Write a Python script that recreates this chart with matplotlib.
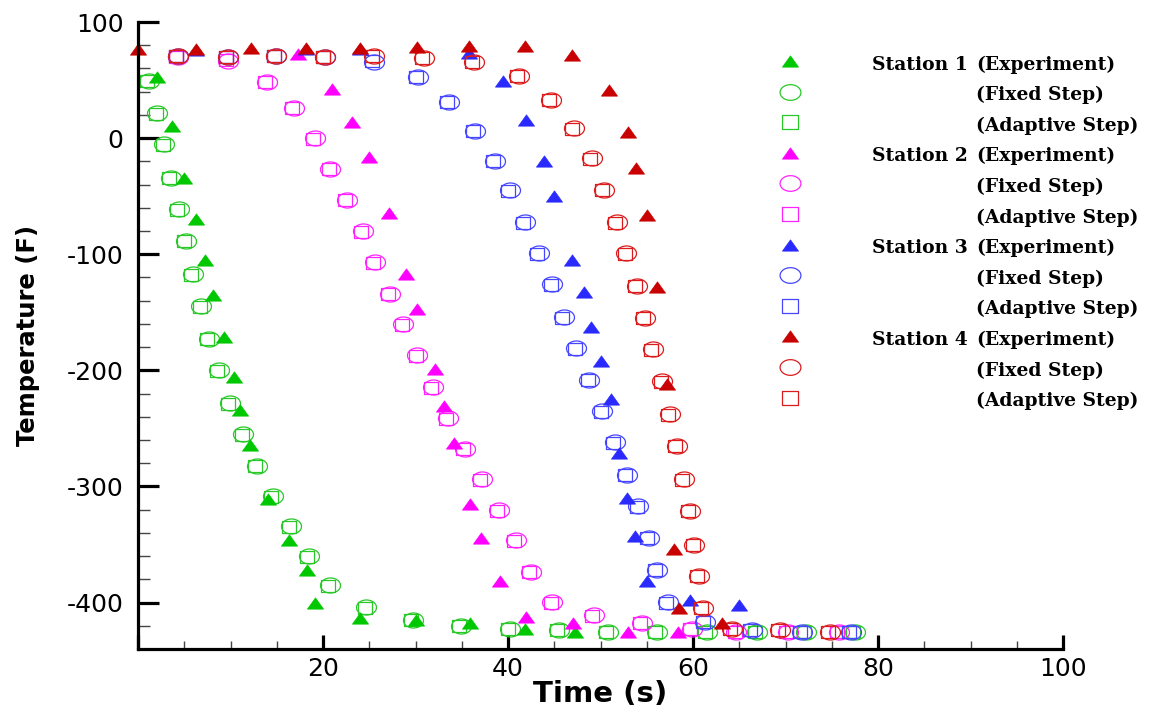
import numpy as np
import matplotlib
matplotlib.use('Agg')
import matplotlib.pyplot as plt
from matplotlib.path import Path
from matplotlib.lines import Line2D
from matplotlib.ticker import MultipleLocator, FuncFormatter

# ---------------- data ----------------
# Station 1
exp_t1 = [2.05, 3.7, 5.0, 6.3, 7.2, 8.1, 9.3, 10.4, 11.0, 12.1, 14.05, 16.3, 18.3, 19.1, 24.0, 30.1, 35.9, 41.8, 47.2]
exp_T1 = [53, 10.5, -34, -70, -105, -135, -171, -206, -234, -264, -311, -346, -372, -400, -413, -415, -418, -423, -425]
fix_t1 = [1.2, 2.1, 2.85, 3.6, 4.4, 5.15, 5.9, 6.85, 7.7, 8.75, 9.95, 11.4, 12.9, 14.55, 16.5, 18.5, 20.75, 24.7, 29.7, 34.9, 40.2, 45.5, 50.8, 56.1, 61.5, 66.9, 72.2, 77.5]
fix_T1 = [49.5, 21.7, -5.3, -34, -61, -89, -117, -145, -173, -200, -228, -255, -282, -308, -334, -360, -385, -404, -415, -420, -423, -424, -425, -425, -425, -425, -425, -425]
ada_t1 = [1.0, 1.9, 2.7, 3.4, 4.2, 4.95, 5.7, 6.65, 7.5, 8.55, 9.75, 11.2, 12.7, 14.4, 16.3, 18.3, 20.55, 24.5, 29.5, 34.7, 40.0, 45.3, 50.6, 55.9, 61.3, 66.7, 72.0, 77.3]
ada_T1 = [49.5, 21.0, -6.0, -34.5, -61.5, -89, -117.5, -145.5, -173, -200.5, -229, -255.5, -282, -309, -335, -361, -385.5, -404.5, -415, -420, -423, -424, -425, -425, -425, -425, -425, -425]

# Station 2
exp_t2 = [17.3, 21.0, 23.1, 25.0, 27.1, 29.0, 30.2, 32.1, 33.1, 34.2, 35.9, 37.1, 39.1, 41.9, 47.0, 53.0, 58.4]
exp_T2 = [72.5, 42.3, 14.2, -16.5, -64.7, -117, -147, -198.6, -231, -262.6, -314.8, -344.4, -381.7, -412.4, -418, -425, -425]
fix_t2 = [4.3, 9.7, 13.95, 16.85, 19.1, 20.8, 22.6, 24.3, 25.65, 27.2, 28.7, 30.2, 31.9, 33.55, 35.35, 37.15, 39.0, 40.9, 42.5, 44.8, 49.3, 54.5, 59.9, 64.7, 70.3, 75.8]
fix_T2 = [70, 66, 48.6, 25.6, -0.2, -26.3, -53, -80.2, -106.9, -134, -160, -187, -214.4, -241, -267.5, -294, -320.6, -346.4, -373.7, -399.5, -411, -418, -422.4, -425, -425, -425]
ada_t2 = [4.1, 9.5, 13.75, 16.65, 18.9, 20.6, 22.4, 24.1, 25.45, 27.0, 28.5, 30.0, 31.7, 33.35, 35.15, 36.95, 38.8, 40.7, 42.3, 44.6, 49.1, 54.3, 59.7, 64.5, 70.1, 75.6]
ada_T2 = [70, 67, 48.6, 25.6, -0.5, -27, -53.5, -81, -107.5, -134.5, -161, -188, -215, -241.5, -268, -294.5, -321, -347, -374, -400, -411.5, -418, -422.4, -425, -425, -425]

# Station 3
exp_t3 = [6.3, 18.2, 24.0, 35.8, 39.5, 41.9, 43.9, 45.0, 46.95, 48.2, 49.0, 50.0, 51.1, 52.0, 52.9, 53.7, 55.0, 59.7, 65.0]
exp_T3 = [76, 77, 77, 73.3, 49.5, 15.7, -19.4, -49.5, -104.8, -132.7, -163, -192, -225, -271, -310, -343, -381.7, -397.4, -401.7]
fix_t3 = [4.3, 9.7, 14.9, 20.2, 25.55, 30.3, 33.65, 36.4, 38.6, 40.2, 41.8, 43.3, 44.8, 46.0, 47.4, 48.8, 50.2, 51.6, 52.9, 54.1, 55.2, 56.1, 57.3, 61.3, 66.4, 71.8, 77.1]
fix_T3 = [70.4, 69.5, 70.4, 69.5, 65.3, 52.3, 31.4, 6.5, -19.4, -45, -72.2, -99, -126, -154, -181, -208, -235, -262, -290, -317, -344, -371.6, -399.5, -416.7, -424, -425, -425]
ada_t3 = [4.1, 9.5, 14.7, 20.0, 25.35, 30.1, 33.45, 36.2, 38.4, 40.0, 41.6, 43.1, 44.6, 45.8, 47.2, 48.6, 50.0, 51.4, 52.7, 53.9, 55.0, 55.9, 57.1, 61.1, 66.2, 71.6, 76.9]
ada_T3 = [70.4, 69.5, 70.4, 69.5, 66, 52.3, 31, 6, -20, -45.5, -73, -99.5, -126.5, -154.5, -181.5, -208.5, -235.5, -262.5, -290.5, -317.5, -344.5, -372, -400, -417, -424, -425, -425]

# Station 4
exp_t4 = [0.0, 6.3, 12.2, 18.2, 24.0, 30.2, 35.8, 41.8, 46.95, 50.9, 53.0, 53.8, 55.0, 56.1, 57.2, 57.9, 58.5, 63.1]
exp_T4 = [77, 77, 77.5, 77.5, 78, 78.5, 79.5, 79.5, 71.5, 41.7, 5.6, -25.6, -66, -128, -211.5, -353.5, -405, -418]
fix_t4 = [4.3, 9.7, 14.9, 20.2, 25.5, 30.95, 36.3, 41.2, 44.65, 47.1, 49.05, 50.4, 51.75, 52.8, 53.9, 54.8, 55.7, 56.7, 57.5, 58.3, 59.05, 59.7, 60.15, 60.6, 61.05, 64.2, 69.4, 74.8]
fix_T4 = [70.4, 69.5, 70.4, 70, 70.4, 69, 65.2, 53.8, 33.1, 8.4, -17.4, -44.3, -72.4, -99, -127, -154.7, -182, -209.5, -238, -265, -294, -321, -350, -377, -405, -422.4, -424, -425]
ada_t4 = [4.1, 9.5, 14.7, 20.0, 25.3, 30.75, 36.1, 41.0, 44.45, 46.9, 48.85, 50.2, 51.55, 52.6, 53.7, 54.6, 55.5, 56.5, 57.3, 58.1, 58.85, 59.5, 59.95, 60.4, 60.85, 64.0, 69.2, 74.6]
ada_T4 = [70.4, 69.5, 70.4, 70, 70.4, 69, 65.5, 53.8, 33, 8, -18, -45, -73, -99.5, -127.5, -155, -182.5, -210, -238.5, -265.5, -294.5, -321.5, -350.5, -377.5, -405, -422.4, -424, -425]

legend_labels = ["Station 1", "Station 2", "Station 3", "Station 4"]
legend_kinds = ["(Experiment)", "(Fixed Step)", "(Adaptive Step)"]
x_ticks = [0, 20, 40, 60, 80, 100]
y_ticks = [-400, -300, -200, -100, 0, 100]

# ---------------- styling ----------------
W, H = 1152, 711
fig = plt.figure(figsize=(W / 100, H / 100), dpi=100)
ax = fig.add_axes([138 / W, 1 - 649 / H, (1063 - 138) / W, (649 - 22) / H])

th = np.linspace(0, 2 * np.pi, 49)
ellipse = Path(np.column_stack([1.33 * np.cos(th), np.sin(th)]), closed=True)
square = Path([(-1, -0.86), (1, -0.86), (1, 0.86), (-1, 0.86), (-1, -0.86)], closed=True)
triangle = Path([(-1, -0.7), (1, -0.7), (0, 0.7), (-1, -0.7)], closed=True)

colors_exp = ['#00c800', '#ff00ff', '#2a2aff', '#c80000']
colors_open = ['#28c828', '#ff22ff', '#4646ff', '#dc1c1c']

stations = [
    (exp_t1, exp_T1, fix_t1, fix_T1, ada_t1, ada_T1),
    (exp_t2, exp_T2, fix_t2, fix_T2, ada_t2, ada_T2),
    (exp_t3, exp_T3, fix_t3, fix_T3, ada_t3, ada_T3),
    (exp_t4, exp_T4, fix_t4, fix_T4, ada_t4, ada_T4),
]

ELL_MS = 14.4
SQ_MS = 10.2
TRI_MS = 11.6
for i, (et, eT, ft, fT, at, aT) in enumerate(stations):
    ax.plot(ft, fT, linestyle='none', marker=ellipse, markersize=ELL_MS,
            markerfacecolor='none', markeredgecolor=colors_open[i], markeredgewidth=0.9, clip_on=False)
    ax.plot(at, aT, linestyle='none', marker=square, markersize=SQ_MS,
            markerfacecolor='none', markeredgecolor=colors_open[i], markeredgewidth=0.9, clip_on=False)
    ax.plot(et, eT, linestyle='none', marker=triangle, markersize=TRI_MS,
            markerfacecolor=colors_exp[i], markeredgecolor=colors_exp[i], markeredgewidth=0.5, clip_on=False)

ax.set_xlim(0, 100)
ax.set_ylim(-440, 100)
for s in ['top', 'right']:
    ax.spines[s].set_visible(False)
for s in ['left', 'bottom']:
    ax.spines[s].set_linewidth(2.3)
    ax.spines[s].set_color('black')

ax.set_xticks(x_ticks)
ax.set_yticks(y_ticks)
ax.xaxis.set_minor_locator(MultipleLocator(5))
ax.yaxis.set_minor_locator(MultipleLocator(20))
ax.xaxis.set_major_formatter(FuncFormatter(lambda v, p: '' if v == 0 else '%d' % v))
ax.yaxis.set_major_formatter(FuncFormatter(lambda v, p: '%d' % v))

ax.tick_params(axis='y', which='major', direction='in', length=15, width=2.3, color='black',
               labelsize=18, pad=10.5)
ax.tick_params(axis='x', which='major', direction='in', length=10, width=2.3, color='black',
               labelsize=18, pad=6)
ax.tick_params(axis='y', which='minor', direction='in', length=8.5, width=1.0, color='#444444')
ax.tick_params(axis='x', which='minor', direction='in', length=6, width=1.0, color='#444444')
for lab in ax.get_xticklabels() + ax.get_yticklabels():
    lab.set_family('DejaVu Sans')

ax.set_xlabel('Time (s)', fontsize=21, fontweight='bold', family='DejaVu Sans')
ax.xaxis.set_label_coords(0.5, -0.05)
ax.set_ylabel('Temperature (F)', fontsize=17.5, fontweight='bold', family='DejaVu Sans')
ax.yaxis.set_label_coords(-0.106, 0.5)

# ---------------- legend ----------------
row0, drow = 61.0, 30.6
marker_x = 790
markers = [triangle, ellipse, square]
msizes = [TRI_MS, ELL_MS + 0.6, SQ_MS + 1.0]
for s in range(4):
    for k in range(3):
        r = s * 3 + k
        ypx = row0 + drow * r
        yf = 1 - ypx / H
        if k == 0:
            fc = colors_exp[s]; ec = colors_exp[s]
        else:
            fc = 'none'; ec = colors_open[s]
        fig.add_artist(Line2D([marker_x / W], [yf], transform=fig.transFigure, linestyle='none',
                              marker=markers[k], markersize=msizes[k], markerfacecolor=fc,
                              markeredgecolor=ec, markeredgewidth=0.9 if k else 0.5))
        yb = 1 - (ypx + 8.6) / H
        if k == 0:
            fig.text(872 / W, yb, legend_labels[s], fontsize=13.5, fontweight='bold',
                     family='DejaVu Serif', va='baseline', ha='left')
        fig.text(976 / W, yb, legend_kinds[k], fontsize=13.5, fontweight='bold',
                 family='DejaVu Serif', va='baseline', ha='left')

fig.savefig('out.png', dpi=100)
